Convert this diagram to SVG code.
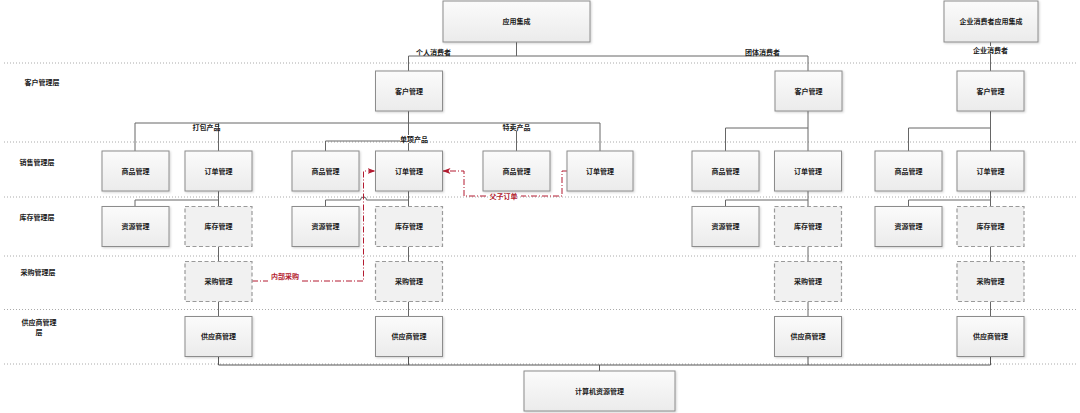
<svg xmlns="http://www.w3.org/2000/svg" width="1080" height="413" viewBox="0 0 1080 413">
<style>
text{font-family:"Noto Sans CJK SC","Liberation Sans",sans-serif;font-size:7px;font-weight:bold;fill:#1a1a1a;}
.c{text-anchor:middle;}
.box{fill:url(#g);stroke:#8c8c8c;stroke-width:1;filter:url(#sh);}
.dbox{fill:#f1f1f1;stroke:#9a9a9a;stroke-width:1.2;stroke-dasharray:4 2.5;}
.ln{fill:none;stroke:#666;stroke-width:1;}
.red{fill:none;stroke:#b31b30;stroke-width:1;stroke-dasharray:6 2 1 2;}
.rt{fill:#b31b30;}
.dot{stroke:#aaa;stroke-width:1;stroke-dasharray:1 2;}
</style>
<defs>
<linearGradient id="g" x1="0" y1="0" x2="0" y2="1"><stop offset="0" stop-color="#fbfbfb"/><stop offset="1" stop-color="#ebebeb"/></linearGradient>
<filter id="sh" x="-10%" y="-10%" width="130%" height="130%"><feDropShadow dx="1" dy="1" stdDeviation="0.8" flood-color="#000" flood-opacity="0.18"/></filter>
<marker id="ar" markerUnits="userSpaceOnUse" markerWidth="8" markerHeight="6" refX="8" refY="3" orient="auto"><path d="M0,0 L8,3 L0,6 L2,3 z" fill="#b31b30"/></marker>
</defs>
<rect width="1080" height="413" fill="#fff"/>
<g id="layers">
<line class="dot" x1="4" y1="63" x2="1076" y2="63"/>
<line class="dot" x1="4" y1="142" x2="1076" y2="142"/>
<line class="dot" x1="4" y1="197" x2="1076" y2="197"/>
<line class="dot" x1="4" y1="256" x2="1076" y2="256"/>
<line class="dot" x1="4" y1="309.5" x2="1076" y2="309.5"/>
<line class="dot" x1="4" y1="364" x2="1076" y2="364"/>
<text class="c" x="42" y="85">客户管理层</text>
<text class="c" x="37" y="164.5">销售管理层</text>
<text class="c" x="37" y="220">库存管理层</text>
<text class="c" x="38" y="274.5">采购管理层</text>
<text class="c" x="39" y="324.5">供应商管理</text>
<text class="c" x="39" y="335">层</text>
</g>
<g id="connectors">
<path class="ln" d="M516.5,42 V56 M408.5,71 V56 H808 V71"/>
<path class="ln" d="M990.5,42 V46 M990.5,54 V71"/>
<path class="ln" d="M408.5,111 V135 M408.5,143 V151 M135,151 V123 H600 V151 M218.5,123 V151 M516.5,131 V151 M325.5,151 V141 H400"/>
<path class="ln" d="M808,111 V151 M725.5,151 V128 H808"/>
<path class="ln" d="M990.5,111 V151 M908.5,151 V128 H990.5"/>
<path class="ln" d="M218.5,191 V206.5 M135,206.5 V200 H218.5"/>
<path class="ln" d="M408.5,191 V206.5 M325.5,206.5 V200 H360.5 a3,3 0 0 1 6,0 H408.5"/>
<path class="ln" d="M808,191 V206.5 M725.5,206.5 V200 H808"/>
<path class="ln" d="M990.5,191 V206.5 M908.5,206.5 V200 H990.5"/>
<path class="ln" d="M218.5,246.5 V261.5 M408.5,246.5 V261.5 M808,246.5 V261.5 M990.5,246.5 V261.5"/>
<path class="ln" d="M218.5,301.5 V316.5 M408.5,301.5 V316.5 M808,301.5 V316.5 M990.5,301.5 V316.5"/>
<path class="ln" d="M218.5,356.5 V365 M408.5,356.5 V365 M808,356.5 V365 M990.5,356.5 V365 M218.5,365 H990.5 M599.5,365 V371" style="stroke:#555"/>
<path class="red" d="M567,171 H562 V196 H521 M486,196 H464 V171 H442.5" marker-end="url(#ar)"/>
<path class="red" d="M252,281 H268 M302,281 H363.5 V171 H375.5" marker-end="url(#ar)"/>
<text class="c" x="433.5" y="54.5">个人消费者</text>
<text class="c" x="762.5" y="54.5">团体消费者</text>
<text class="c" x="990.5" y="52.5">企业消费者</text>
<text class="c" x="206.5" y="129.5">打包产品</text>
<text class="c" x="516.5" y="129.5">特卖产品</text>
<text class="c" x="414" y="141.5">单项产品</text>
<text class="c rt" x="503.5" y="198.5">父子订单</text>
<text class="c rt" x="285" y="279">内部采购</text>
</g>
<g id="n-app"><rect class="box" x="443" y="1" width="147" height="41"/><text class="c" x="516.5" y="24">应用集成</text></g>
<g id="n-ent"><rect class="box" x="944" y="1" width="94" height="41"/><text class="c" x="991" y="24">企业消费者应用集成</text></g>
<g id="n-cm1"><rect class="box" x="375.5" y="71" width="67" height="40"/><text class="c" x="409" y="93.5">客户管理</text></g>
<g id="n-cm2"><rect class="box" x="775" y="71" width="67" height="40"/><text class="c" x="808.5" y="93.5">客户管理</text></g>
<g id="n-cm3"><rect class="box" x="957" y="71" width="67" height="40"/><text class="c" x="990.5" y="93.5">客户管理</text></g>
<g id="n-sp1"><rect class="box" x="102" y="151" width="67" height="40"/><text class="c" x="135.5" y="173.5">商品管理</text></g>
<g id="n-om1"><rect class="box" x="185" y="151" width="67" height="40"/><text class="c" x="218.5" y="173.5">订单管理</text></g>
<g id="n-sp2"><rect class="box" x="292" y="151" width="67" height="40"/><text class="c" x="325.5" y="173.5">商品管理</text></g>
<g id="n-om2"><rect class="box" x="375.5" y="151" width="67" height="40"/><text class="c" x="409" y="173.5">订单管理</text></g>
<g id="n-sp3"><rect class="box" x="483" y="151" width="67" height="40"/><text class="c" x="516.5" y="173.5">商品管理</text></g>
<g id="n-om3"><rect class="box" x="567" y="151" width="66" height="40"/><text class="c" x="600" y="173.5">订单管理</text></g>
<g id="n-sp4"><rect class="box" x="692" y="151" width="67" height="40"/><text class="c" x="725.5" y="173.5">商品管理</text></g>
<g id="n-om4"><rect class="box" x="774.5" y="151" width="67" height="40"/><text class="c" x="808" y="173.5">订单管理</text></g>
<g id="n-sp5"><rect class="box" x="875" y="151" width="67" height="40"/><text class="c" x="908.5" y="173.5">商品管理</text></g>
<g id="n-om5"><rect class="box" x="957" y="151" width="67" height="40"/><text class="c" x="990.5" y="173.5">订单管理</text></g>
<g id="n-rm1"><rect class="box" x="102" y="206.5" width="67" height="40"/><text class="c" x="135.5" y="229">资源管理</text></g>
<g id="n-im1"><rect class="dbox" x="185" y="206.5" width="67" height="40"/><text class="c" x="218.5" y="229">库存管理</text></g>
<g id="n-rm2"><rect class="box" x="292" y="206.5" width="67" height="40"/><text class="c" x="325.5" y="229">资源管理</text></g>
<g id="n-im2"><rect class="dbox" x="375.5" y="206.5" width="67" height="40"/><text class="c" x="409" y="229">库存管理</text></g>
<g id="n-rm4"><rect class="box" x="692" y="206.5" width="67" height="40"/><text class="c" x="725.5" y="229">资源管理</text></g>
<g id="n-im4"><rect class="dbox" x="774.5" y="206.5" width="67" height="40"/><text class="c" x="808" y="229">库存管理</text></g>
<g id="n-rm5"><rect class="box" x="875" y="206.5" width="67" height="40"/><text class="c" x="908.5" y="229">资源管理</text></g>
<g id="n-im5"><rect class="dbox" x="957" y="206.5" width="67" height="40"/><text class="c" x="990.5" y="229">库存管理</text></g>
<g id="n-pm1"><rect class="dbox" x="185" y="261.5" width="67" height="40"/><text class="c" x="218.5" y="284">采购管理</text></g>
<g id="n-pm2"><rect class="dbox" x="375.5" y="261.5" width="67" height="40"/><text class="c" x="409" y="284">采购管理</text></g>
<g id="n-pm4"><rect class="dbox" x="774.5" y="261.5" width="67" height="40"/><text class="c" x="808" y="284">采购管理</text></g>
<g id="n-pm5"><rect class="dbox" x="957" y="261.5" width="67" height="40"/><text class="c" x="990.5" y="284">采购管理</text></g>
<g id="n-su1"><rect class="box" x="185" y="316.5" width="67" height="40"/><text class="c" x="218.5" y="339">供应商管理</text></g>
<g id="n-su2"><rect class="box" x="375.5" y="316.5" width="67" height="40"/><text class="c" x="409" y="339">供应商管理</text></g>
<g id="n-su4"><rect class="box" x="774.5" y="316.5" width="67" height="40"/><text class="c" x="808" y="339">供应商管理</text></g>
<g id="n-su5"><rect class="box" x="957" y="316.5" width="67" height="40"/><text class="c" x="990.5" y="339">供应商管理</text></g>
<g id="n-comp"><rect class="box" x="524" y="371" width="151" height="40"/><text class="c" x="599.5" y="393.5">计算机资源管理</text></g>
</svg>
